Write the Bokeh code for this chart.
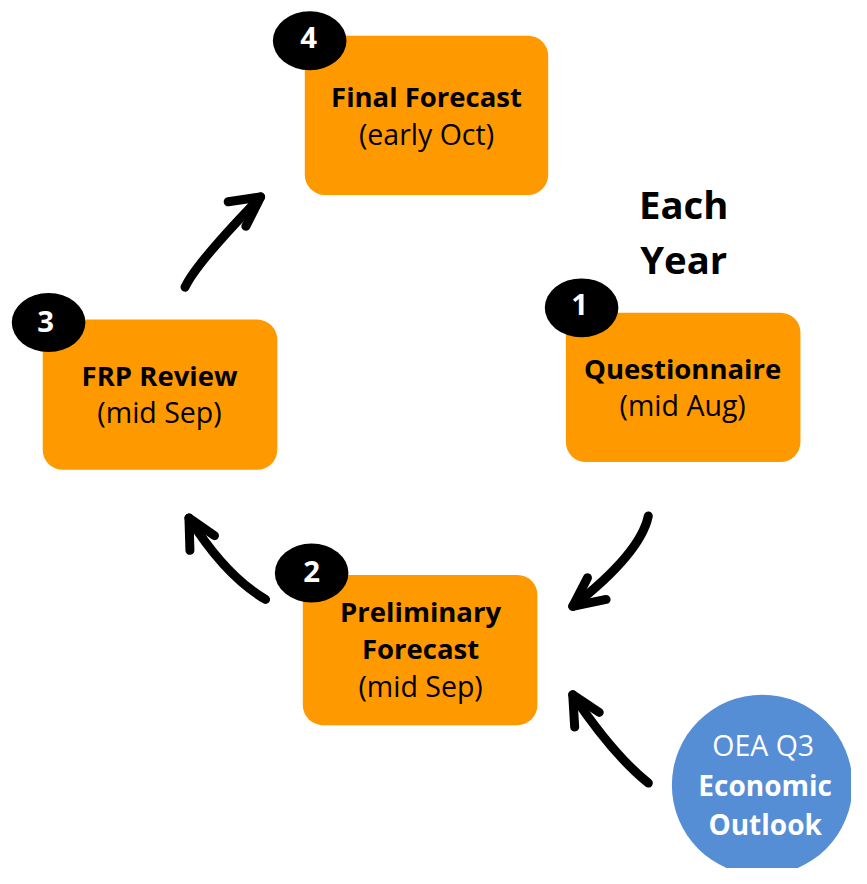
from bokeh.plotting import figure
from bokeh.models import Range1d
from bokeh.core.properties import value
from bokeh.embed import file_html
from bokeh.resources import INLINE

# ---- data (diagram layout, in reference-picture pixel units) ----
step_numbers = ["1", "2", "3", "4"]
box_left = [576, 308, 43, 310]
box_right = [815, 547, 282, 558]
box_top = [318, 585, 325, 36]
box_bottom = [470, 738, 478, 198]
badge_x = [592, 317, 49, 315]
badge_y = [313, 583, 328, 41]
badge_text_x = [590, 317, 46, 314]
badge_text_y = [310, 582, 327, 38]

bold_lines = ["Questionnaire", "Preliminary", "Forecast", "FRP Review", "Final Forecast"]
bold_x = [695, 428, 428, 162, 434]
bold_y = [375, 622, 660, 382, 98]
normal_lines = ["(mid Aug)", "(mid Sep)", "(mid Sep)", "(early Oct)"]
normal_x = [695, 428, 162, 434]
normal_y = [412, 698, 419, 136]

heading_lines = ["Each", "Year"]
heading_x = [696, 696]
heading_y = [207, 263]

source_label_normal = ["OEA Q3"]
source_label_bold = ["Economic", "Outlook"]
circle_x, circle_y, circle_r = 776, 799, 92

# arrows: tail, control, tip, arrow-head arm ends
arrow_x0 = [188, 660, 270, 660]
arrow_y0 = [292, 525, 610, 797]
arrow_cx = [199, 652, 229, 624]
arrow_cy = [268, 563, 586, 768]
arrow_x1 = [265, 583, 192, 583]
arrow_y1 = [200, 617, 527, 707]
arm1_x = [232, 598, 193, 585]
arm1_y = [205, 588, 560, 740]
arm2_x = [250, 617, 218, 610]
arm2_y = [230, 610, 545, 725]

ORANGE = "#FF9900"
BLUE = "#558ED5"
FONT = "Open Sans"

REF_W, REF_H = 867, 884
W, H = 851, 868
S = W / REF_W


def fs(px):
    return f"{px * S:.1f}px"


p = figure(width=W, height=H, output_backend="svg", toolbar_location=None,
           x_range=Range1d(0, REF_W), y_range=Range1d(REF_H, 0),
           min_border=0, outline_line_color=None)
p.axis.visible = False
p.grid.visible = False
p.background_fill_color = "white"
p.border_fill_color = "white"

# boxes
p.quad(left=box_left, right=box_right, top=box_top, bottom=box_bottom,
       fill_color=ORANGE, line_color=None, border_radius=20)

# badges
p.ellipse(x=badge_x, y=badge_y, width=75, height=60, fill_color="black", line_color=None)
p.text(x=badge_text_x, y=badge_text_y, text=step_numbers, text_color="white",
       text_font=value(FONT), text_font_style="bold", text_font_size=fs(30),
       text_align="center", text_baseline="middle")

# box texts
p.text(x=bold_x, y=bold_y, text=bold_lines, text_color="black",
       text_font=value(FONT), text_font_style="bold", text_font_size=fs(28),
       text_align="center", text_baseline="middle")
p.text(x=normal_x, y=normal_y, text=normal_lines, text_color="black",
       text_font=value(FONT), text_font_size=fs(29),
       text_align="center", text_baseline="middle")

# heading
p.text(x=heading_x, y=heading_y, text=heading_lines, text_color="black",
       text_font=value(FONT), text_font_style="bold", text_font_size=fs(39),
       text_align="center", text_baseline="middle")

# source circle
p.circle(x=[circle_x], y=[circle_y], radius=circle_r, fill_color=BLUE, line_color=None)
p.text(x=[777], y=[758], text=source_label_normal, text_color="white",
       text_font=value(FONT), text_font_size=fs(29),
       text_align="center", text_baseline="middle")
p.text(x=[779, 779], y=[799, 839], text=source_label_bold, text_color="white",
       text_font=value(FONT), text_font_style="bold", text_font_size=fs(28.5),
       text_align="center", text_baseline="middle")

# arrows
p.quadratic(x0=arrow_x0, y0=arrow_y0, x1=arrow_x1, y1=arrow_y1, cx=arrow_cx, cy=arrow_cy,
            line_color="black", line_width=9, line_cap="round")
heads_x = [[a, t, b] for a, t, b in zip(arm1_x, arrow_x1, arm2_x)]
heads_y = [[a, t, b] for a, t, b in zip(arm1_y, arrow_y1, arm2_y)]
p.multi_line(xs=heads_x, ys=heads_y, line_color="black", line_width=9,
             line_cap="round", line_join="round")

open("out.html", "w").write(file_html(p, INLINE))
